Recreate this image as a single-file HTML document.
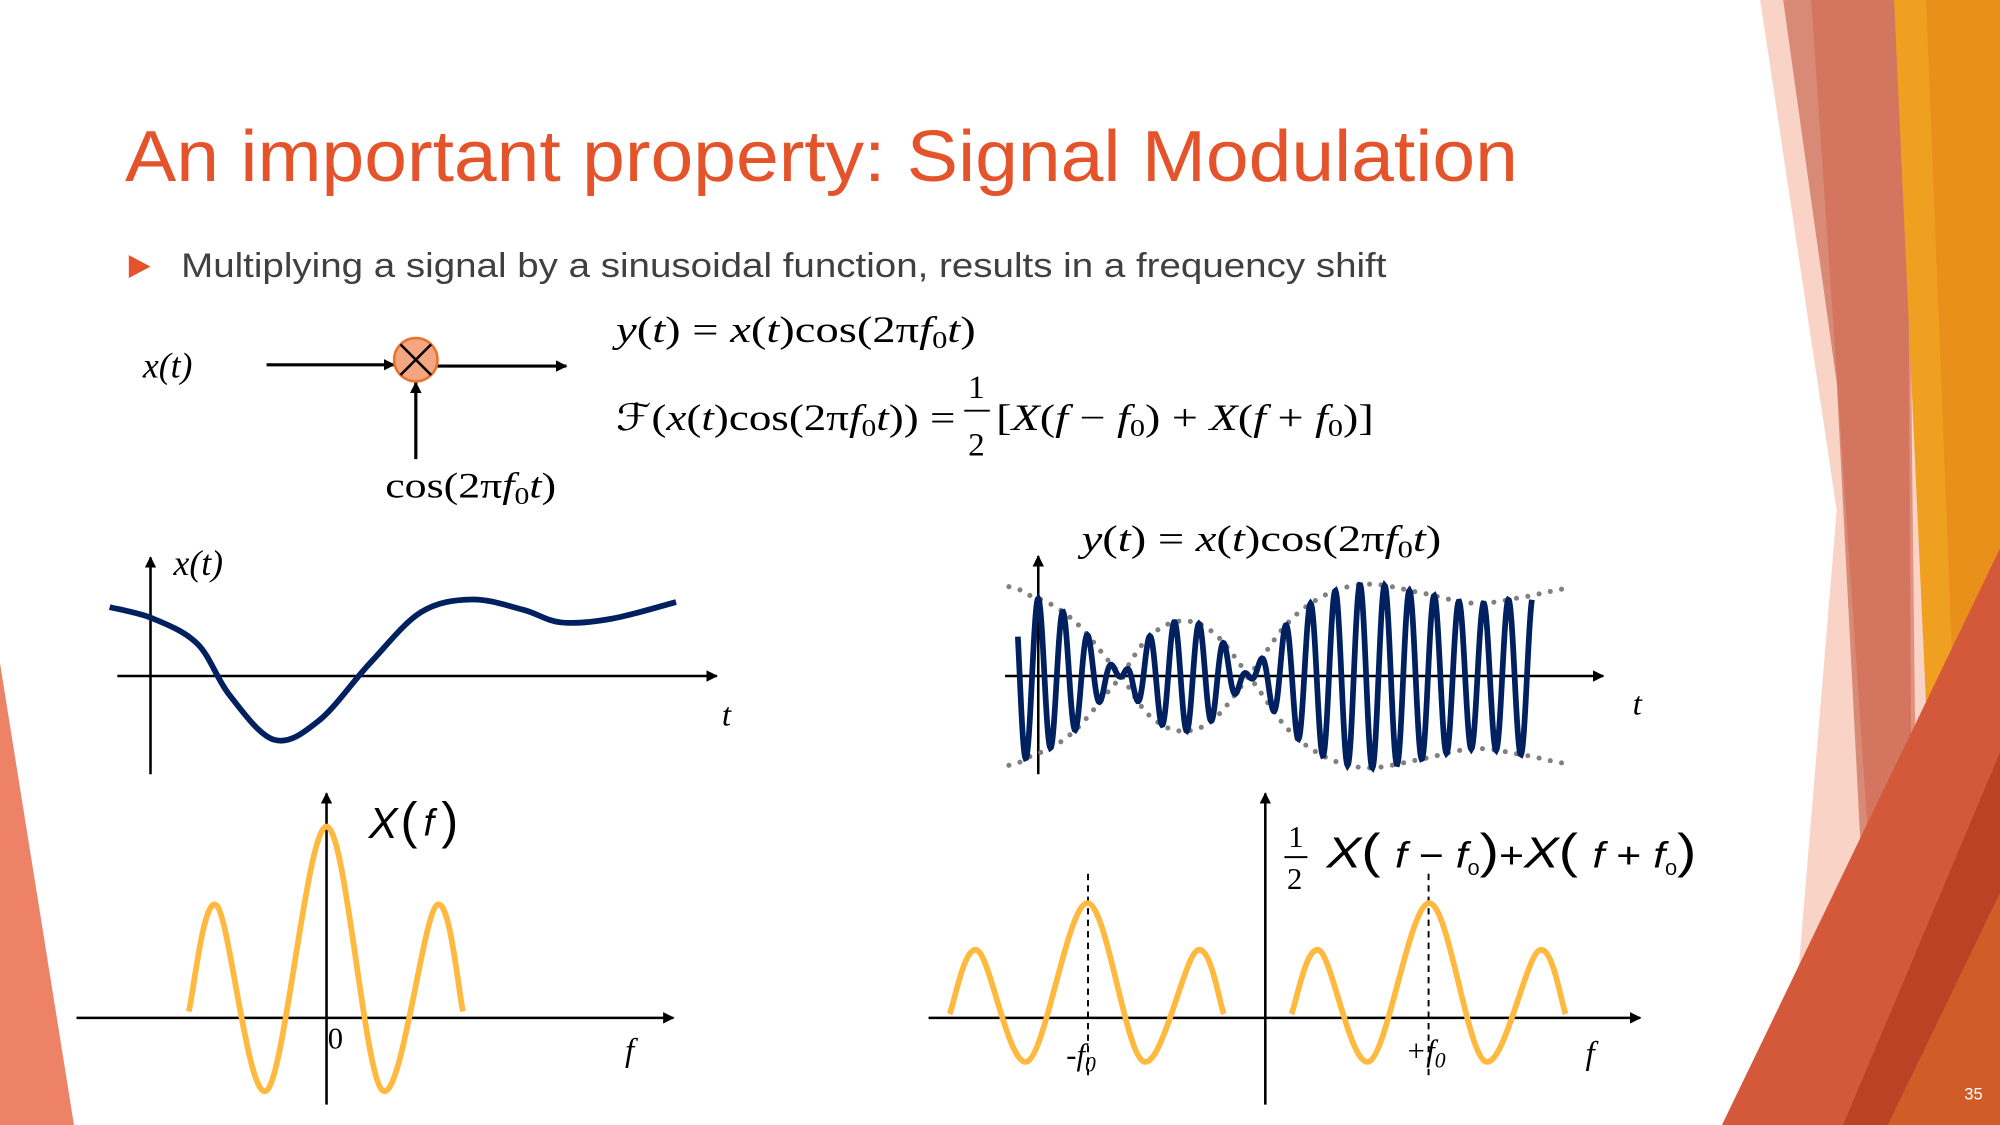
<!DOCTYPE html>
<html><head><meta charset="utf-8">
<style>
html,body{margin:0;padding:0;background:#fff;}
svg{display:block;}
.serif{font-family:"Liberation Serif",serif;}
.sans{font-family:"Liberation Sans",sans-serif;}
</style></head>
<body>
<svg id="slide" width="2000" height="1125" viewBox="0 0 1568 882" xmlns="http://www.w3.org/2000/svg">
<defs>
<marker id="ah" viewBox="0 0 10 10" refX="9" refY="5" markerWidth="9" markerHeight="9" markerUnits="userSpaceOnUse" orient="auto"><path d="M0,0 L10,5 L0,10 z" fill="#000"/></marker>
</defs>
<rect width="1568" height="882" fill="#fff"/>
<g>
<polygon points="1380,0 1568,0 1568,882 1400,882 1440,400" fill="#F8D3C6"/>
<polygon points="1398,0 1495,0 1500,882 1470,882 1440,300" fill="#D98A76"/>
<polygon points="1420,0 1495,0 1505,882 1480,882" fill="#D06850" opacity="0.6"/>
<polygon points="1485,0 1568,0 1568,882 1525,882" fill="#F0A020"/>
<polygon points="1510,0 1568,0 1568,882 1545,882" fill="#E8901A"/>
<polygon points="1350,882 1568,430 1568,882" fill="#D4583A"/>
<polygon points="1445,882 1568,590 1568,882" fill="#BC4226"/>
<polygon points="1480,882 1568,700 1568,882" fill="#D96A2A" opacity="0.7"/>
</g>
<polygon points="0,520 58,882 0,882" fill="#EE8266"/>
<text x="1540" y="862" class="sans" font-size="13" fill="#fff">35</text>

<text x="98" y="142" class="sans" font-size="57" fill="#E4532A" textLength="1092" lengthAdjust="spacingAndGlyphs">An important property: Signal Modulation</text>
<polygon points="101,200 118,209 101,218" fill="#E4532A"/>
<text x="142" y="217" class="sans" font-size="26.5" fill="#404040" textLength="945" lengthAdjust="spacingAndGlyphs">Multiplying a signal by a sinusoidal function, results in a frequency shift</text>

<g>
<text x="112" y="296" class="serif" font-size="28" font-style="italic">x(t)</text>
<line x1="209" y1="286" x2="309" y2="286" stroke="#000" stroke-width="2.5" marker-end="url(#ah)"/>
<line x1="343" y1="287" x2="444" y2="287" stroke="#000" stroke-width="2.5" marker-end="url(#ah)"/>
<line x1="326" y1="360" x2="326" y2="300" stroke="#000" stroke-width="2.5" marker-end="url(#ah)"/>
<circle cx="326" cy="282" r="17" fill="#F4A582" stroke="#E8732A" stroke-width="2"/>
<line x1="314" y1="270" x2="338" y2="294" stroke="#000" stroke-width="2"/>
<line x1="338" y1="270" x2="314" y2="294" stroke="#000" stroke-width="2"/>
<text x="302" y="390" class="serif" font-size="28" textLength="134" lengthAdjust="spacingAndGlyphs">cos(2π<tspan font-style="italic">f</tspan><tspan font-size="19" dy="5">0</tspan><tspan dy="-5" font-style="italic">t</tspan>)</text>
</g>
<text x="483" y="268" class="serif" font-size="29" textLength="282" lengthAdjust="spacingAndGlyphs"><tspan font-style="italic">y</tspan>(<tspan font-style="italic">t</tspan>) = <tspan font-style="italic">x</tspan>(<tspan font-style="italic">t</tspan>)cos(2π<tspan font-style="italic">f</tspan><tspan font-size="19" dy="5">0</tspan><tspan dy="-5" font-style="italic">t</tspan>)</text>
<g class="serif" font-size="29">
<text x="483" y="337" textLength="266" lengthAdjust="spacingAndGlyphs">ℱ(<tspan font-style="italic">x</tspan>(<tspan font-style="italic">t</tspan>)cos(2π<tspan font-style="italic">f</tspan><tspan font-size="19" dy="5">0</tspan><tspan dy="-5" font-style="italic">t</tspan>)) =</text>
<text x="759" y="312" font-size="26">1</text>
<line x1="756" y1="322" x2="776" y2="322" stroke="#000" stroke-width="1.5"/>
<text x="759" y="357" font-size="26">2</text>
<text x="781" y="337" textLength="296" lengthAdjust="spacingAndGlyphs">[<tspan font-style="italic">X</tspan>(<tspan font-style="italic">f</tspan> − <tspan font-style="italic">f</tspan><tspan font-size="19" dy="5">0</tspan><tspan dy="-5">) + </tspan><tspan font-style="italic">X</tspan>(<tspan font-style="italic">f</tspan> + <tspan font-style="italic">f</tspan><tspan font-size="19" dy="5">0</tspan><tspan dy="-5">)]</tspan></text>
</g>

<g>
<line x1="118" y1="607" x2="118" y2="437" stroke="#000" stroke-width="2" marker-end="url(#ah)"/>
<line x1="92" y1="530" x2="562" y2="530" stroke="#000" stroke-width="2" marker-end="url(#ah)"/>
<text x="136" y="451" class="serif" font-size="28" font-style="italic">x(t)</text>
<text x="566" y="569" class="serif" font-size="26" font-style="italic">t</text>
<path id="xt-curve" fill="none" stroke="#002060" stroke-width="4.5"/>
</g>

<g>
<line x1="256" y1="866" x2="256" y2="622" stroke="#000" stroke-width="2" marker-end="url(#ah)"/>
<line x1="60" y1="798" x2="528" y2="798" stroke="#000" stroke-width="2" marker-end="url(#ah)"/>
<text x="289" y="657" class="sans" font-size="34" font-style="italic">X</text>
<text x="314" y="657" class="sans" font-size="40" font-weight="100">(</text>
<text x="332" y="655" class="sans" font-size="30" font-style="italic">f</text>
<text x="346" y="657" class="sans" font-size="40" font-weight="100">)</text>
<text x="257" y="822" class="serif" font-size="24">0</text>
<text x="490" y="832" class="serif" font-size="26" font-style="italic">f</text>
<path id="Xf-curve" fill="none" stroke="#FFB93E" stroke-width="4.5" stroke-linejoin="round"/>
</g>

<g>
<text x="848" y="432" class="serif" font-size="29" textLength="282" lengthAdjust="spacingAndGlyphs"><tspan font-style="italic">y</tspan>(<tspan font-style="italic">t</tspan>) = <tspan font-style="italic">x</tspan>(<tspan font-style="italic">t</tspan>)cos(2π<tspan font-style="italic">f</tspan><tspan font-size="19" dy="5">0</tspan><tspan dy="-5" font-style="italic">t</tspan>)</text>
<line x1="814" y1="607" x2="814" y2="436" stroke="#000" stroke-width="2" marker-end="url(#ah)"/>
<line x1="788" y1="530" x2="1257" y2="530" stroke="#000" stroke-width="2" marker-end="url(#ah)"/>
<text x="1280" y="560" class="serif" font-size="26" font-style="italic">t</text>
<path id="env-top" fill="none" stroke="#808080" stroke-width="4" stroke-linecap="round" stroke-dasharray="0 9"/>
<path id="env-bot" fill="none" stroke="#808080" stroke-width="4" stroke-linecap="round" stroke-dasharray="0 9"/>
<path id="yt-curve" fill="none" stroke="#002060" stroke-width="4.5"/>
</g>

<g>
<line x1="992" y1="866" x2="992" y2="622" stroke="#000" stroke-width="2" marker-end="url(#ah)"/>
<line x1="728" y1="798" x2="1286" y2="798" stroke="#000" stroke-width="2" marker-end="url(#ah)"/>
<line x1="853" y1="685" x2="853" y2="846" stroke="#000" stroke-width="1.5" stroke-dasharray="5 4"/>
<line x1="1120" y1="685" x2="1120" y2="846" stroke="#000" stroke-width="1.5" stroke-dasharray="5 4"/>
<path id="Yf-left" fill="none" stroke="#FFB93E" stroke-width="4.5" stroke-linejoin="round"/>
<path id="Yf-right" fill="none" stroke="#FFB93E" stroke-width="4.5" stroke-linejoin="round"/>
<text x="836" y="835" class="serif" font-size="24" font-style="italic">-f<tspan font-size="17" dy="5">0</tspan></text>
<text x="1102" y="832" class="serif" font-size="24" font-style="italic">+f<tspan font-size="17" dy="5">0</tspan></text>
<text x="1243" y="834" class="serif" font-size="26" font-style="italic">f</text>
<g class="serif" font-size="24">
<text x="1010" y="664">1</text>
<line x1="1007" y1="672" x2="1025" y2="672" stroke="#000" stroke-width="1.5"/>
<text x="1009" y="697">2</text>
</g>
<text x="1040" y="680" class="sans" font-size="34" textLength="290" lengthAdjust="spacingAndGlyphs"><tspan font-style="italic">X</tspan><tspan font-weight="100" font-size="38">(</tspan> <tspan font-style="italic" font-size="28">f</tspan><tspan font-size="28"> − </tspan><tspan font-style="italic" font-size="28">f</tspan><tspan font-size="14" dy="6">0</tspan><tspan dy="-6" font-size="38">)</tspan><tspan font-size="28">+</tspan><tspan font-style="italic">X</tspan><tspan font-size="38">(</tspan> <tspan font-style="italic" font-size="28">f</tspan><tspan font-size="28"> + </tspan><tspan font-style="italic" font-size="28">f</tspan><tspan font-size="14" dy="6">0</tspan><tspan dy="-6" font-size="38">)</tspan></text>
</g>
</svg>
<script>
const xtT = [86,120,155,180,215,250,290,330,370,410,440,480,530];
const xtV = [54,45,25,-15,-50,-35,10,50,60,52,42,45,58];
const XfF = [-108,-86,-47,0,44,86,107];
const XfV = [5,88,-57,150,-57,88,5];
const envT = [791,805,840,880,900,924,950,979,1010,1040,1072,1110,1156,1195,1231];
const envV = [70,64,45,0,-30,-43,-35,0,42,64,72,66,57,62,69];
const carrierPeriod = 19.4, carrierPeak = 814, ytStart = 798, ytEnd = 1201;
const f0 = 133.5;

function smooth(pts){
  let d = "M"+pts[0][0]+","+pts[0][1];
  for(let i=0;i < pts.length-1;i++){
    const p0=pts[Math.max(0,i-1)],p1=pts[i],p2=pts[i+1],p3=pts[Math.min(pts.length-1,i+2)];
    const c1=[p1[0]+(p2[0]-p0[0])/6,p1[1]+(p2[1]-p0[1])/6];
    const c2=[p2[0]-(p3[0]-p1[0])/6,p2[1]-(p3[1]-p1[1])/6];
    d+=" C"+c1[0]+","+c1[1]+" "+c2[0]+","+c2[1]+" "+p2[0]+","+p2[1];
  }
  return d;
}
function interp(xs,ys,x){
  if(x <= xs[0]) return ys[0];
  for(let i=0;i < xs.length-1;i++){
    if(x <= xs[i+1]){
      const p0=Math.max(0,i-1),p3=Math.min(xs.length-1,i+2);
      const t=(x-xs[i])/(xs[i+1]-xs[i]);
      const m1=(ys[i+1]-ys[p0])/2, m2=(ys[p3]-ys[i])/2;
      const t2=t*t,t3=t2*t;
      return (2*t3-3*t2+1)*ys[i]+(t3-2*t2+t)*m1+(-2*t3+3*t2)*ys[i+1]+(t3-t2)*m2;
    }
  }
  return ys[ys.length-1];
}
const ytY = v => 530 - v;
document.getElementById('xt-curve').setAttribute('d', smooth(xtT.map((t,i)=>[t, 530-xtV[i]])));
function specScaled(cx,s){ return smooth(XfF.map((f,i)=>[cx+f, 798-XfV[i]*s])); }
document.getElementById('Xf-curve').setAttribute('d', specScaled(256,1));
document.getElementById('Yf-left').setAttribute('d', specScaled(992-f0-6,0.6));
document.getElementById('Yf-right').setAttribute('d', specScaled(992+f0-5,0.6));
let envUp="",envDn="",sig="";
for(let x=envT[0];x <= envT[envT.length-1];x+=1){
  const e=Math.abs(interp(envT,envV,x));
  envUp+=(x===envT[0]?"M":"L")+x+","+ytY(e)+" ";
  envDn+=(x===envT[0]?"M":"L")+x+","+ytY(-e)+" ";
}
for(let x=ytStart;x <= ytEnd;x+=0.5){
  const v=interp(envT,envV,x)*Math.cos(2*Math.PI*(x-carrierPeak)/carrierPeriod);
  sig+=(x===ytStart?"M":"L")+x.toFixed(1)+","+ytY(v).toFixed(1)+" ";
}
document.getElementById('env-top').setAttribute('d',envUp);
document.getElementById('env-bot').setAttribute('d',envDn);
document.getElementById('yt-curve').setAttribute('d',sig);
</script>
</body></html>
